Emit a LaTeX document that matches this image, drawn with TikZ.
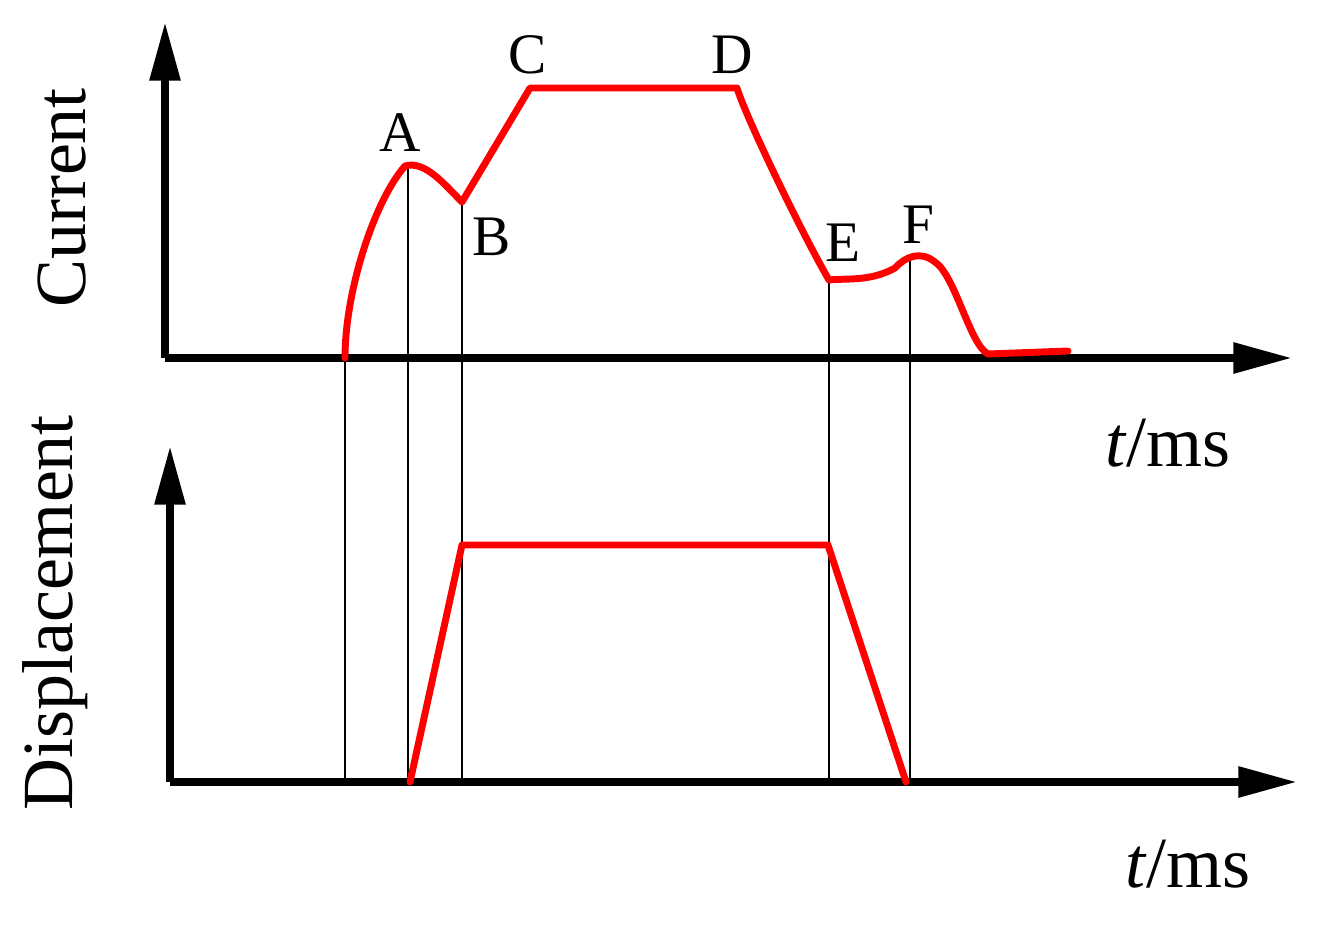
\documentclass[tikz,border=0pt]{standalone}
\usepackage{fontspec}
\setmainfont{Liberation Serif}
\usetikzlibrary{arrows.meta}
\begin{document}
\begin{tikzpicture}[x=0.75pt,y=-0.75pt,
  axis/.style={line width=6pt,-{Triangle[length=44pt,width=22pt]}},
  curve/.style={red,line width=5.2pt,line join=round,line cap=round},
  guide/.style={black,line width=1pt},
  lab/.style={font=\fontsize{43}{45}\selectfont},
  big/.style={font=\fontsize{54}{56}\selectfont}]
\useasboundingbox (0,0) rectangle (1332,932);
% axes
\coordinate (o1) at (165,358); \coordinate (y1) at (165,22); \coordinate (x1) at (1292,358);
\coordinate (o2) at (170,782); \coordinate (y2) at (170,446); \coordinate (x2) at (1297,782);
\draw[axis] (o1) -- (y1);
\draw[axis] (o1) -- (x1);
\draw[axis] (o2) -- (y2);
\draw[axis] (o2) -- (x2);
% key points
\coordinate (S) at (345,358);
\coordinate (A) at (405,166);
\coordinate (B) at (462,202);
\coordinate (C) at (530,88);
\coordinate (D) at (737,88);
\coordinate (E) at (829,280);
\coordinate (F) at (910,257);
\coordinate (G) at (988,354);
\coordinate (H) at (1068,351);
% guides
\draw[guide] (S) -- (345,782);
\draw[guide] (408,168) -- (408,782);
\draw[guide] (B) -- (462,782);
\draw[guide] (E) -- (829,782);
\draw[guide] (F) -- (910,782);
% current curve
\draw[curve] (S) .. controls (345,290) and (375,200) .. (A)
  .. controls (425,160) and (445,185) .. (B)
  -- (C) -- (D)
  .. controls (745,115) and (800,230) .. (E)
  .. controls (845,278) and (870,282) .. (895,268)
  .. controls (905,257) and (920,250) .. (935,262)
  .. controls (955,275) and (970,345) .. (G) -- (H);
% displacement
\coordinate (P1) at (410,782); \coordinate (P2) at (462,545);
\coordinate (P3) at (828,545); \coordinate (P4) at (906,782);
\draw[curve] (P1) -- (P2) -- (P3) -- (P4);
% labels
\node[lab] (lA) at (400,133) {A};
\node[lab] (lB) at (492,237) {B};
\node[lab] (lC) at (528,55) {C};
\node[lab] (lD) at (732,55) {D};
\node[lab] (lE) at (843,243) {E};
\node[lab] (lF) at (918,225) {F};
\node[big,rotate=90] (cur) at (62,198) {Current};
\node[big,rotate=90] (dis) at (55,613) {Displacement};
\node[big] (t1) at (1168,443) {\textit{t}/ms};
\node[big] (t2) at (1188,864) {\textit{t}/ms};
\end{tikzpicture}
\end{document}
